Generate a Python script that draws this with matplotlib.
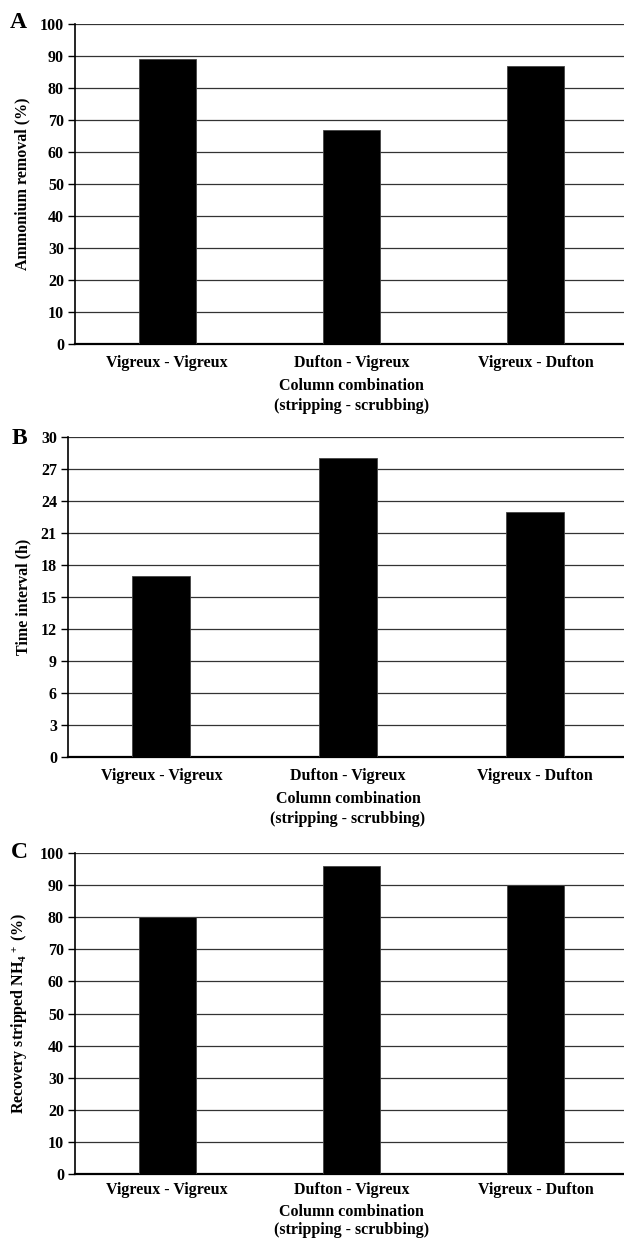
import matplotlib
matplotlib.use("Agg")
import matplotlib.pyplot as plt
import numpy as np

categories = ["Vigreux - Vigreux", "Dufton - Vigreux", "Vigreux - Dufton"]
ammonium_removal = [89, 67, 87]
time_interval = [17, 28, 23]
recovery = [80, 96, 90]

plt.rcParams['font.family'] = ['Liberation Serif', 'DejaVu Serif']
plt.rcParams['font.weight'] = 'bold'
plt.rcParams['mathtext.fontset'] = 'custom'
plt.rcParams['mathtext.rm'] = 'Liberation Serif:bold'
plt.rcParams['mathtext.it'] = 'Liberation Serif:bold'
plt.rcParams['mathtext.bf'] = 'Liberation Serif:bold'

W, H = 624, 1241
fig = plt.figure(figsize=(W/100, H/100), dpi=100)

panels = [
    dict(letter="A", vals=ammonium_removal, ylim=100, step=10,
         ylabel="Ammonium removal (%)", box=(75, 24, 628, 344), lx=10, ly=23,
         tpad=8, lpad=5, ls=1.35),
    dict(letter="B", vals=time_interval, ylim=30, step=3,
         ylabel="Time interval (h)", box=(68, 437, 628, 757), lx=12, ly=438,
         tpad=8, lpad=5, ls=1.35),
    dict(letter="C", vals=recovery, ylim=100, step=10,
         ylabel="Recovery stripped NH$_4$$^+$ (%)", box=(75, 853, 628, 1174), lx=11, ly=853,
         tpad=6, lpad=4, ls=1.2),
]

for p in panels:
    x0, y0, x1, y1 = p["box"]
    ax = fig.add_axes([x0/W, 1 - y1/H, (x1-x0)/W, (y1-y0)/H])
    x = np.arange(len(categories))
    ax.bar(x, p["vals"], width=0.31, color="black", edgecolor="#444444", linewidth=0.6, zorder=3)
    ax.set_xlim(-0.5, 2.5)
    ax.set_ylim(0, p["ylim"])
    ax.set_yticks(np.arange(0, p["ylim"] + 0.1, p["step"]))
    ax.yaxis.grid(True, color="#333333", linewidth=0.9, zorder=0)
    ax.set_axisbelow(True)
    for s in ["top", "right"]:
        ax.spines[s].set_visible(False)
    ax.spines["left"].set_linewidth(1.2)
    ax.spines["bottom"].set_linewidth(1.6)
    ax.set_xticks(x)
    ax.set_xticklabels(categories, fontsize=11.5, fontweight="bold")
    ax.tick_params(axis="x", length=0, pad=p["tpad"])
    ax.tick_params(axis="y", length=5, width=1, labelsize=11.5, pad=3)
    for lab in ax.get_yticklabels():
        lab.set_fontweight("bold")
    ax.set_xlabel("Column combination\n(stripping - scrubbing)", fontsize=11.5,
                  fontweight="bold", labelpad=p["lpad"], linespacing=p["ls"])
    ax.set_ylabel(p["ylabel"], fontsize=11.5, fontweight="bold", labelpad=7)
    fig.text(p["lx"]/W, 1 - p["ly"]/H, p["letter"], fontsize=17, fontweight="bold",
             va="center", ha="left")

fig.savefig("out.png", dpi=100)
